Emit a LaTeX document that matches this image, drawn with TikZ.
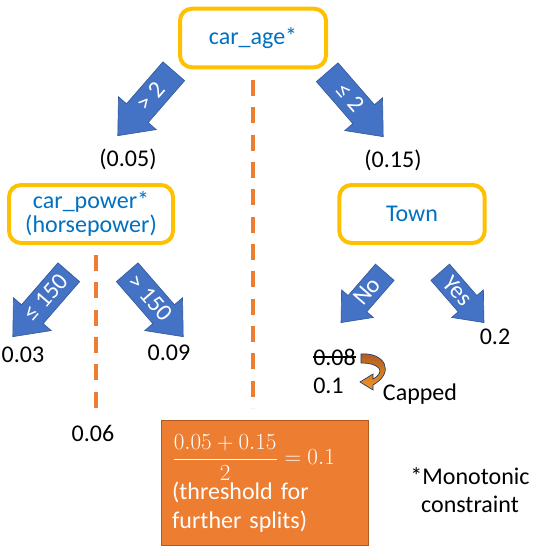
\documentclass[tikz,border=0pt]{standalone}
\usepackage{fontspec}
\setmainfont{Carlito}
\usetikzlibrary{shapes.arrows}
\definecolor{boxyellow}{HTML}{FFC000}
\definecolor{nameblue}{HTML}{0070C0}
\definecolor{arrowblue}{HTML}{4472C4}
\definecolor{splitorange}{HTML}{ED7D31}
\definecolor{splitedge}{HTML}{AE5A21}
\begin{document}
\begin{tikzpicture}[x=0.75pt,y=-0.75pt,font=\fontsize{18}{21.6}\selectfont,
  feature/.style={draw=boxyellow,line width=3pt,rounded corners=9pt,text=nameblue,align=center},
  branch/.style={single arrow,fill=arrowblue,draw=arrowblue!80!black,line width=0.5pt,text=white,anchor=tail,
    single arrow tip angle=80,single arrow head extend=8pt,inner xsep=1pt,inner ysep=3.5pt,
    text height=12pt,text depth=2pt,minimum height=64pt},
  smallbranch/.style={branch,inner ysep=2pt,single arrow head extend=6.5pt,minimum height=50pt},
  split/.style={splitorange,line width=3pt,dash pattern=on 12pt off 8.5pt}]
  \useasboundingbox (0,0) rectangle (538,554);
  \foreach \x/\top in {253/80,96/255} % split lines
    \draw[split] (\x,\top) -- (\x,408);
  \node[feature,minimum width=109.5pt,minimum height=44pt] (carage) at (253,38) {car\_age*};
  \node[feature,minimum width=123pt,minimum height=43.5pt,font=\fontsize{18}{18}\selectfont] (carpower) at (91,214) {car\_power*\\(horsepower)};
  \node[feature,minimum width=109pt,minimum height=43.5pt] (town) at (412,214) {Town};
  % branches
  \node[branch,rotate=49,shape border rotate=180] (agehigh) at (174,71) {> 2};
  \node[branch,rotate=-49] (agelow) at (327,72) {≤ 2};
  \node[branch,rotate=49,shape border rotate=180] (powerlow) at (69,272) {≤ 150};
  \node[branch,rotate=-49] (powerhigh) at (127,272) {> 150};
  \node[smallbranch,rotate=49,shape border rotate=180] (townno) at (385,272) {No};
  \node[smallbranch,rotate=-49] (townyes) at (440,272) {Yes};
  % values
  \node (agehighval) at (128,159) {(0.05)};
  \node (agelowval) at (393,160) {(0.15)};
  \node (powerlowval) at (23,355) {0.03};
  \node (powerhighval) at (169,353) {0.09};
  \node (powersplit) at (93,433) {0.06};
  \node (townyesval) at (495,337) {0.2};
  \node[anchor=west,inner xsep=0pt] (townnoold) at (313,357) {0.08};
  \draw[line width=1pt] (townnoold.west) -- (townnoold.east); % struck out
  \node[anchor=west,inner xsep=0pt] (townnonew) at (313,386) {0.1};
  \node (capped) at (420,394) {Capped};
  \shadedraw[top color=splitedge,bottom color=splitorange!80!yellow,draw=arrowblue!50!black,line width=0.5pt]
    (361,354) .. controls (384,352) and (396,372) .. (373,385) -- (373,390) -- (360,382) -- (373,374)
    -- (373,379) .. controls (386,372) and (380,363) .. (361,363) -- cycle; % capped arrow
  \node[fill=splitorange,draw=splitedge,line width=0.75pt,text=white,align=left,anchor=north west,
    inner xsep=8pt,text width=139pt,minimum height=94pt] (threshold) at (161,420)
    {$\displaystyle\frac{0.05+0.15}{2}=0.1$\\(threshold for\\further splits)};
  \node[align=center] (note) at (470,490) {*Monotonic\\constraint};
\end{tikzpicture}
\end{document}
